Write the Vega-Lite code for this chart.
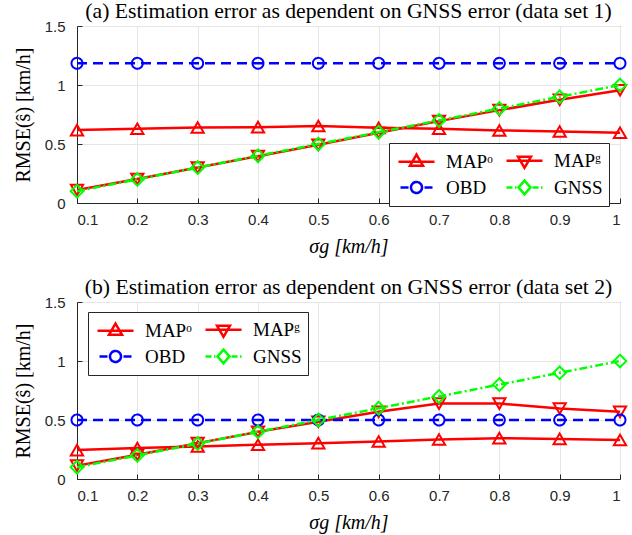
{
  "$schema": "https://vega.github.io/schema/vega-lite/v6.json",
  "padding": {"left": 12, "top": 0, "right": 8, "bottom": 2},
  "spacing": 19,
  "datasets": {
    "d1": [
      {"s": 0.1, "v": 0.618, "series": "MAPo"}, {"s": 0.2, "v": 0.629, "series": "MAPo"}, {"s": 0.3, "v": 0.64, "series": "MAPo"}, {"s": 0.4, "v": 0.643, "series": "MAPo"}, {"s": 0.5, "v": 0.652, "series": "MAPo"},
      {"s": 0.6, "v": 0.637, "series": "MAPo"}, {"s": 0.7, "v": 0.629, "series": "MAPo"}, {"s": 0.8, "v": 0.615, "series": "MAPo"}, {"s": 0.9, "v": 0.606, "series": "MAPo"}, {"s": 1.0, "v": 0.595, "series": "MAPo"},
      {"s": 0.1, "v": 0.11, "series": "MAPg"}, {"s": 0.2, "v": 0.204, "series": "MAPg"}, {"s": 0.3, "v": 0.3, "series": "MAPg"}, {"s": 0.4, "v": 0.397, "series": "MAPg"}, {"s": 0.5, "v": 0.493, "series": "MAPg"},
      {"s": 0.6, "v": 0.595, "series": "MAPg"}, {"s": 0.7, "v": 0.694, "series": "MAPg"}, {"s": 0.8, "v": 0.787, "series": "MAPg"}, {"s": 0.9, "v": 0.875, "series": "MAPg"}, {"s": 1.0, "v": 0.955, "series": "MAPg"},
      {"s": 0.1, "v": 1.184, "series": "OBD"}, {"s": 0.2, "v": 1.184, "series": "OBD"}, {"s": 0.3, "v": 1.184, "series": "OBD"}, {"s": 0.4, "v": 1.184, "series": "OBD"}, {"s": 0.5, "v": 1.184, "series": "OBD"},
      {"s": 0.6, "v": 1.184, "series": "OBD"}, {"s": 0.7, "v": 1.184, "series": "OBD"}, {"s": 0.8, "v": 1.184, "series": "OBD"}, {"s": 0.9, "v": 1.184, "series": "OBD"}, {"s": 1.0, "v": 1.184, "series": "OBD"},
      {"s": 0.1, "v": 0.1, "series": "GNSS"}, {"s": 0.2, "v": 0.2, "series": "GNSS"}, {"s": 0.3, "v": 0.3, "series": "GNSS"}, {"s": 0.4, "v": 0.4, "series": "GNSS"}, {"s": 0.5, "v": 0.5, "series": "GNSS"},
      {"s": 0.6, "v": 0.6, "series": "GNSS"}, {"s": 0.7, "v": 0.7, "series": "GNSS"}, {"s": 0.8, "v": 0.8, "series": "GNSS"}, {"s": 0.9, "v": 0.9, "series": "GNSS"}, {"s": 1.0, "v": 1.0, "series": "GNSS"}
    ],
    "d2": [
      {"s": 0.1, "v": 0.245, "series": "MAPo"}, {"s": 0.2, "v": 0.262, "series": "MAPo"}, {"s": 0.3, "v": 0.276, "series": "MAPo"}, {"s": 0.4, "v": 0.29, "series": "MAPo"}, {"s": 0.5, "v": 0.304, "series": "MAPo"},
      {"s": 0.6, "v": 0.318, "series": "MAPo"}, {"s": 0.7, "v": 0.335, "series": "MAPo"}, {"s": 0.8, "v": 0.346, "series": "MAPo"}, {"s": 0.9, "v": 0.34, "series": "MAPo"}, {"s": 1.0, "v": 0.33, "series": "MAPo"},
      {"s": 0.1, "v": 0.113, "series": "MAPg"}, {"s": 0.2, "v": 0.206, "series": "MAPg"}, {"s": 0.3, "v": 0.304, "series": "MAPg"}, {"s": 0.4, "v": 0.4, "series": "MAPg"}, {"s": 0.5, "v": 0.485, "series": "MAPg"},
      {"s": 0.6, "v": 0.569, "series": "MAPg"}, {"s": 0.7, "v": 0.639, "series": "MAPg"}, {"s": 0.8, "v": 0.639, "series": "MAPg"}, {"s": 0.9, "v": 0.597, "series": "MAPg"}, {"s": 1.0, "v": 0.569, "series": "MAPg"},
      {"s": 0.1, "v": 0.5, "series": "OBD"}, {"s": 0.2, "v": 0.5, "series": "OBD"}, {"s": 0.3, "v": 0.5, "series": "OBD"}, {"s": 0.4, "v": 0.5, "series": "OBD"}, {"s": 0.5, "v": 0.5, "series": "OBD"},
      {"s": 0.6, "v": 0.5, "series": "OBD"}, {"s": 0.7, "v": 0.5, "series": "OBD"}, {"s": 0.8, "v": 0.5, "series": "OBD"}, {"s": 0.9, "v": 0.5, "series": "OBD"}, {"s": 1.0, "v": 0.5, "series": "OBD"},
      {"s": 0.1, "v": 0.1, "series": "GNSS"}, {"s": 0.2, "v": 0.2, "series": "GNSS"}, {"s": 0.3, "v": 0.3, "series": "GNSS"}, {"s": 0.4, "v": 0.4, "series": "GNSS"}, {"s": 0.5, "v": 0.5, "series": "GNSS"},
      {"s": 0.6, "v": 0.6, "series": "GNSS"}, {"s": 0.7, "v": 0.7, "series": "GNSS"}, {"s": 0.8, "v": 0.8, "series": "GNSS"}, {"s": 0.9, "v": 0.9, "series": "GNSS"}, {"s": 1.0, "v": 1.0, "series": "GNSS"}
    ]
  },
  "config": {
    "view": {"stroke": "#262626", "strokeWidth": 1},
    "axis": {
      "labelFont": "Liberation Sans", "labelFontSize": 15, "labelColor": "#262626",
      "titleFont": "Liberation Serif", "titleFontSize": 20, "titleFontWeight": "normal", "titleColor": "#000000",
      "gridColor": "#e6e6e6", "gridWidth": 1, "domainColor": "#262626", "tickColor": "#262626", "tickSize": -5, "labelPadding": 14
    },
    "title": {"font": "Liberation Serif", "fontSize": 21.7, "fontWeight": "normal", "color": "#000000", "offset": -4},
    "legend": {
      "labelFont": "Liberation Serif", "labelFontSize": 19, "labelColor": "#000000",
      "fillColor": "#ffffff", "strokeColor": "#262626", "padding": 6, "columnPadding": 8, "rowPadding": 2,
      "symbolSize": 400, "symbolOffset": 10, "labelOffset": 18
    }
  },
  "vconcat": [
    {
      "title": "(a) Estimation error as dependent on GNSS error (data set 1)",
      "width": 543, "height": 177,
      "data": {"name": "d1"},
      "encoding": {
        "x": {"field": "s", "type": "quantitative", "scale": {"domain": [0.1, 1], "nice": false, "zero": false},
              "axis": {"values": [0.1, 0.2, 0.3, 0.4, 0.5, 0.6, 0.7, 0.8, 0.9, 1.0], "format": ".1~f", "title": "σg [km/h]", "titleFontStyle": "italic", "titlePadding": 9}},
        "y": {"field": "v", "type": "quantitative", "scale": {"domain": [0, 1.5], "nice": false},
              "axis": {"values": [0, 0.5, 1, 1.5], "format": ".1~f", "title": "RMSE(ŝ) [km/h]", "titlePadding": 11, "labelPadding": 17}},
        "color": {"field": "series", "type": "nominal",
                  "scale": {"domain": ["MAPo", "OBD", "MAPg", "GNSS"], "range": ["#ff0000", "#0000ff", "#ff0000", "#00ff00"]},
                  "legend": {"title": null, "orient": "none", "legendX": 312, "legendY": 117, "columns": 2,
                             "labelExpr": "datum.value === 'MAPo' ? 'MAPᵒ' : datum.value === 'MAPg' ? 'MAPᵍ' : datum.value",
                             "encode": {"symbols": {"update": {
                               "shape": {"signal": "datum.value === 'MAPo' ? 'M-1.8,0H1.8M0,-0.72L0.65,0.4L-0.65,0.4Z' : datum.value === 'MAPg' ? 'M-1.8,0H1.8M0,0.72L0.65,-0.4L-0.65,-0.4Z' : datum.value === 'OBD' ? 'M-1.6,0H-0.8M0.8,0H1.6M0.55,0A0.55,0.55 0 1,1 -0.55,0A0.55,0.55 0 1,1 0.55,0Z' : 'M-1.8,0H-1.2M-0.95,0H-0.8M0.8,0H1.4M1.65,0H1.8M0,-0.68L0.6,0L0,0.68L-0.6,0Z'"},
                               "fill": {"value": "transparent"}, "strokeWidth": {"value": 2.5}, "strokeDash": {"value": [1, 0]}, "size": {"value": 400}
                             }}}}}
      },
      "layer": [
        {"transform": [{"filter": "datum.series === 'MAPo'"}],
         "mark": {"type": "line", "strokeWidth": 2.5, "point": {"shape": "triangle-up", "filled": false, "size": 150, "strokeWidth": 2}}},
        {"transform": [{"filter": "datum.series === 'MAPg'"}],
         "mark": {"type": "line", "strokeWidth": 2.5, "point": {"shape": "triangle-down", "filled": false, "size": 150, "strokeWidth": 2}}},
        {"transform": [{"filter": "datum.series === 'OBD'"}],
         "mark": {"type": "line", "strokeWidth": 2.5, "strokeDash": [10, 6], "point": {"shape": "circle", "filled": false, "size": 120, "strokeWidth": 2, "strokeDash": [1, 0]}}},
        {"transform": [{"filter": "datum.series === 'GNSS'"}],
         "mark": {"type": "line", "strokeWidth": 2.5, "strokeDash": [8, 3, 2, 3], "point": {"shape": "diamond", "filled": false, "size": 160, "strokeWidth": 2, "strokeDash": [1, 0]}}}
      ]
    },
    {
      "title": "(b) Estimation error as dependent on GNSS error (data set 2)",
      "width": 543, "height": 177,
      "data": {"name": "d2"},
      "encoding": {
        "x": {"field": "s", "type": "quantitative", "scale": {"domain": [0.1, 1], "nice": false, "zero": false},
              "axis": {"values": [0.1, 0.2, 0.3, 0.4, 0.5, 0.6, 0.7, 0.8, 0.9, 1.0], "format": ".1~f", "title": "σg [km/h]", "titleFontStyle": "italic", "titlePadding": 9}},
        "y": {"field": "v", "type": "quantitative", "scale": {"domain": [0, 1.5], "nice": false},
              "axis": {"values": [0, 0.5, 1, 1.5], "format": ".1~f", "title": "RMSE(ŝ) [km/h]", "titlePadding": 11, "labelPadding": 17}},
        "color": {"field": "series", "type": "nominal",
                  "scale": {"domain": ["MAPo", "OBD", "MAPg", "GNSS"], "range": ["#ff0000", "#0000ff", "#ff0000", "#00ff00"]},
                  "legend": {"title": null, "orient": "none", "legendX": 11, "legendY": 10, "columns": 2,
                             "labelExpr": "datum.value === 'MAPo' ? 'MAPᵒ' : datum.value === 'MAPg' ? 'MAPᵍ' : datum.value",
                             "encode": {"symbols": {"update": {
                               "shape": {"signal": "datum.value === 'MAPo' ? 'M-1.8,0H1.8M0,-0.72L0.65,0.4L-0.65,0.4Z' : datum.value === 'MAPg' ? 'M-1.8,0H1.8M0,0.72L0.65,-0.4L-0.65,-0.4Z' : datum.value === 'OBD' ? 'M-1.6,0H-0.8M0.8,0H1.6M0.55,0A0.55,0.55 0 1,1 -0.55,0A0.55,0.55 0 1,1 0.55,0Z' : 'M-1.8,0H-1.2M-0.95,0H-0.8M0.8,0H1.4M1.65,0H1.8M0,-0.68L0.6,0L0,0.68L-0.6,0Z'"},
                               "fill": {"value": "transparent"}, "strokeWidth": {"value": 2.5}, "strokeDash": {"value": [1, 0]}, "size": {"value": 400}
                             }}}}}
      },
      "layer": [
        {"transform": [{"filter": "datum.series === 'MAPo'"}],
         "mark": {"type": "line", "strokeWidth": 2.5, "point": {"shape": "triangle-up", "filled": false, "size": 150, "strokeWidth": 2}}},
        {"transform": [{"filter": "datum.series === 'MAPg'"}],
         "mark": {"type": "line", "strokeWidth": 2.5, "point": {"shape": "triangle-down", "filled": false, "size": 150, "strokeWidth": 2}}},
        {"transform": [{"filter": "datum.series === 'OBD'"}],
         "mark": {"type": "line", "strokeWidth": 2.5, "strokeDash": [10, 6], "point": {"shape": "circle", "filled": false, "size": 120, "strokeWidth": 2, "strokeDash": [1, 0]}}},
        {"transform": [{"filter": "datum.series === 'GNSS'"}],
         "mark": {"type": "line", "strokeWidth": 2.5, "strokeDash": [8, 3, 2, 3], "point": {"shape": "diamond", "filled": false, "size": 160, "strokeWidth": 2, "strokeDash": [1, 0]}}}
      ]
    }
  ],
  "resolve": {"scale": {"color": "independent"}, "legend": {"color": "independent"}}
}
